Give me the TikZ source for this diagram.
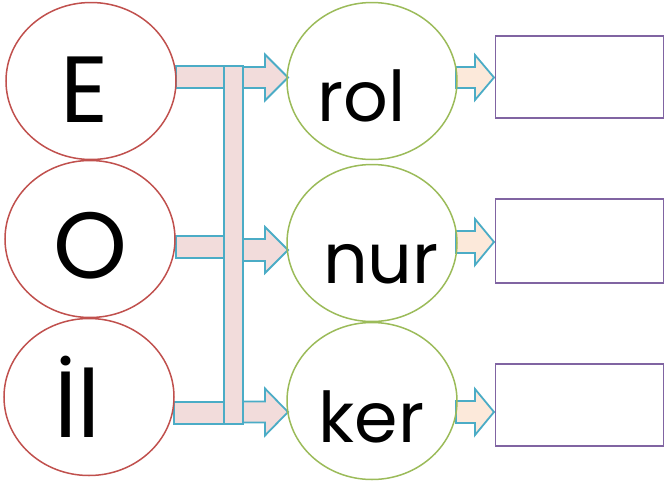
\documentclass[tikz,border=0pt]{standalone}
\usepackage{fontspec}
\setmainfont{Poppins}
\usetikzlibrary{shapes.geometric}
\definecolor{ringred}{HTML}{C0504D}
\definecolor{ringgreen}{HTML}{9BBB59}
\definecolor{boxpurple}{HTML}{8064A2}
\definecolor{barblue}{HTML}{4BACC6}
\definecolor{barpink}{HTML}{F2DCDB}
\definecolor{arrowpeach}{HTML}{FCE9DA}
\tikzset{
  ring/.style={ellipse,draw,line width=1.5pt,minimum width=170pt,minimum height=157pt,inner sep=0pt},
  leftring/.style={ring,draw=ringred},
  rightring/.style={ring,draw=ringgreen},
  answerbox/.style={rectangle,draw=boxpurple,line width=1.8pt,minimum width=168pt,minimum height=82pt,inner sep=0pt},
  bar/.style={draw=barblue,fill=barpink,line width=1.8pt,line join=miter},
  smallarrow/.style={draw=barblue,fill=arrowpeach,line width=1.8pt,line join=miter},
  letter/.style={anchor=base,inner sep=0pt,font=\fontsize{94}{96}\selectfont},
  syllable/.style={anchor=base,inner sep=0pt,font=\fontsize{70}{72}\selectfont}
}
% draws a block arrow: start x, tip x, head x, centre y, half shaft, half head
\newcommand*{\blockarrow}[7]{%
  \draw[#1] (#2,#5-#6) -- (#4,#5-#6) -- (#4,#5-#7) -- (#3,#5)
    -- (#4,#5+#7) -- (#4,#5+#6) -- (#2,#5+#6) -- cycle;}

\begin{document}
\begin{tikzpicture}[x=1pt,y=-1pt]
\useasboundingbox (0,0) rectangle (665,488);
% pink bars
\draw[bar] (176,66) rectangle (224,88);
\draw[bar] (176,236) rectangle (224,258);
\draw[bar] (174,402) rectangle (224,424);
\draw[bar] (224,66) rectangle (243,424);
% arrows to the syllables
\blockarrow{bar}{243}{288}{265}{77.5}{10.5}{23}
\blockarrow{bar}{243}{288}{265}{250}{11}{23}
\blockarrow{bar}{243}{288}{265}{412}{10.5}{23.5}
% arrows to the boxes
\blockarrow{smallarrow}{456}{494}{475}{77.5}{10.5}{22.5}
\blockarrow{smallarrow}{456}{494}{475}{242}{11}{23}
\blockarrow{smallarrow}{456}{494}{475}{412}{11}{23}
% left rings
\node[leftring] (ringE) at (91,81) {};
\node[leftring] (ringO) at (90,239) {};
\node[leftring] (ringI) at (89,397) {};
\node[letter] (txtE) at (84.5,122) {E};
\node[letter] (txtO) at (90.5,278) {O};
\node[letter] (txtI) at (77.5,437) {İl};
% right rings
\node[rightring] (ringRol) at (372,81) {};
\node[rightring] (ringNur) at (372,243) {};
\node[rightring] (ringKer) at (372,401) {};
\node[syllable] (txtRol) at (361.5,121) {rol};
\node[syllable] (txtNur) at (381,283) {nur};
\node[syllable] (txtKer) at (371.5,442) {ker};
% answer boxes
\node[answerbox] (box1) at (579.5,77) {};
\node[answerbox,minimum height=84pt] (box2) at (579.5,241) {};
\node[answerbox] (box3) at (579.5,405) {};
\end{tikzpicture}
\end{document}
